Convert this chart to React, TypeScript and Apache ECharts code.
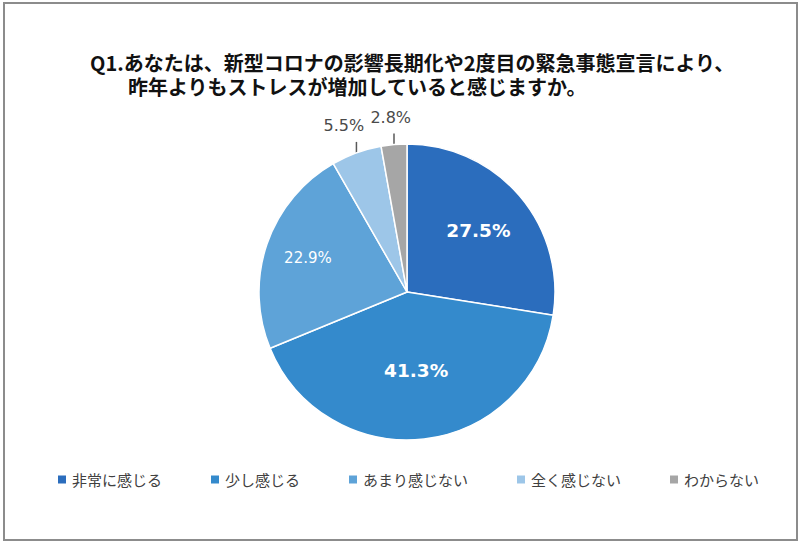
import React, { useEffect, useRef } from "react";
import * as echarts from "echarts";

const categories = ["非常に感じる", "少し感じる", "あまり感じない", "全く感じない", "わからない"];
const values = [27.5, 41.3, 22.9, 5.5, 2.8];
const colors = ["#2b6dbd", "#348acc", "#5ea3d8", "#9dc6e8", "#a6a6a6"];
const titleLine1 = "Q1.あなたは、新型コロナの影響長期化や2度目の緊急事態宣言により、";
const titleLine2 = "昨年よりもストレスが増加していると感じますか。";

const CX = 407;
const CY = 292;
const R = 148;
const insideLabelStretch = [1.22, 1.02, 1.36];

export default function App() {
  const ref = useRef<HTMLDivElement>(null);
  useEffect(() => {
    document.body.style.margin = "0";
    if (!ref.current) return;
    const chart = echarts.init(ref.current, null, { renderer: "svg" });
    const insideStyles = [
      { fontSize: 18.5, fontWeight: "bold" },
      { fontSize: 18.5, fontWeight: "bold" },
      { fontSize: 15, fontWeight: "normal" },
    ];
    const data = categories.map((name, i) => {
      const inside = values[i] >= 10;
      return {
        name,
        value: values[i],
        itemStyle: { color: colors[i] },
        label: inside
          ? {
              position: "inside",
              color: "#ffffff",
              fontFamily: "DejaVu Sans",
              ...(insideStyles[i] || { fontSize: 15 }),
            }
          : {
              position: "outside",
              color: "#4a4a4a",
              fontSize: 16,
              fontFamily: "DejaVu Sans",
            },
        labelLine: inside ? { show: false } : { show: true, length: 10, length2: 0 },
      };
    });
    chart.setOption({
      animation: false,
      backgroundColor: "#ffffff",
      title: {
        text: "{a|" + titleLine1 + "}\n{b|" + titleLine2 + "}",
        left: 90,
        top: 50,
        padding: 0,
        textStyle: {
          fontSize: 20,
          fontWeight: "bold",
          color: "#111111",
          fontFamily: "'Noto Sans CJK JP'",
          rich: {
            a: { fontSize: 20, lineHeight: 24, fontWeight: "bold", color: "#111111", fontFamily: "'Noto Sans CJK JP'" },
            b: {
              fontSize: 20,
              lineHeight: 24,
              fontWeight: "bold",
              color: "#111111",
              fontFamily: "'Noto Sans CJK JP'",
              padding: [0, 0, 0, 38],
            },
          },
        },
      },
      legend: {
        data: categories,
        left: 51,
        top: 467,
        icon: "rect",
        itemWidth: 10,
        itemHeight: 10,
        itemGap: 47,
        textStyle: { fontSize: 15, color: "#404040", fontFamily: "'Noto Sans CJK JP'" },
      },
      graphic: [
        {
          type: "rect",
          shape: { x: 4, y: 3, width: 793, height: 537 },
          style: { fill: "none", stroke: "#8c8c8c", lineWidth: 2 },
          z: 100,
        },
      ],
      series: [
        {
          type: "pie",
          center: [CX, CY],
          radius: [0, R],
          startAngle: 90,
          clockwise: true,
          avoidLabelOverlap: false,
          itemStyle: { borderColor: "#ffffff", borderWidth: 1.5 },
          label: { show: true, formatter: (p: any) => p.value.toFixed(1) + "%" },
          labelLine: { lineStyle: { color: "#595959", width: 1.5 } },
          labelLayout: (p: any) => {
            const rect = p.labelRect;
            if (p.labelLinePoints && p.labelLinePoints.length) {
              const p0 = p.labelLinePoints[0];
              const top = p0[1] - 11;
              return {
                x: p0[0] + (p0[0] - CX) * 0.25,
                y: top - 8,
                align: "center",
                verticalAlign: "bottom",
                labelLinePoints: [
                  [p0[0], p0[1]],
                  [p0[0], top],
                  [p0[0], top],
                ],
              };
            }
            const k = insideLabelStretch[p.dataIndex] || 1.2;
            const mx = rect.x + rect.width / 2;
            const my = rect.y + rect.height / 2;
            return {
              x: CX + (mx - CX) * k,
              y: CY + (my - CY) * k,
            };
          },
          data,
        },
      ],
    });
    return () => chart.dispose();
  }, []);
  return <div ref={ref} style={{ width: 800, height: 543 }} />;
}
